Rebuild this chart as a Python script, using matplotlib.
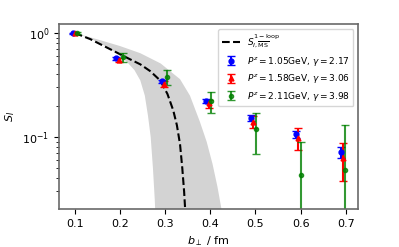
import numpy as np
import matplotlib
matplotlib.use('Agg')
import matplotlib.pyplot as plt

# 格点数据 (b_perp / fm, S_I)
blue_x = [0.096, 0.192, 0.292, 0.391, 0.490, 0.590, 0.689]
blue_y = [1.00, 0.571, 0.343, 0.222, 0.153, 0.106, 0.071]
blue_err = [0.012, 0.015, 0.012, 0.010, 0.010, 0.009, 0.0085]

red_x = [0.100, 0.198, 0.298, 0.397, 0.495, 0.595, 0.694]
red_y = [1.00, 0.550, 0.323, 0.210, 0.140, 0.0986, 0.0625]
red_err = [0.012, 0.020, 0.022, 0.019, 0.019, 0.023, 0.025]

green_x = [0.105, 0.206, 0.304, 0.402, 0.502, 0.600, 0.699]
green_y = [1.00, 0.584, 0.380, 0.222, 0.119, 0.0432, 0.0476]
green_err = [0.020, 0.058, 0.065, 0.050, 0.050, 0.046, 0.082]

labels = [r'$P^z=1.05$GeV, $\gamma=2.17$',
          r'$P^z=1.58$GeV, $\gamma=3.06$',
          r'$P^z=2.11$GeV, $\gamma=3.98$']

# 单圈微扰结果 (中心值 + 误差带边界)
pt_b = [0.100, 0.134, 0.178, 0.222, 0.245, 0.267, 0.289, 0.305, 0.318,
        0.326, 0.333, 0.338, 0.342, 0.345, 0.347]
pt_S = [1.00, 0.875, 0.70, 0.56, 0.50, 0.43, 0.35, 0.26, 0.18,
        0.13, 0.085, 0.05, 0.03, 0.018, 0.010]

band_lo_b = [0.100, 0.130, 0.160, 0.190, 0.215, 0.232, 0.245, 0.255, 0.262,
             0.268, 0.273, 0.277, 0.280]
band_lo_S = [1.00, 0.90, 0.78, 0.65, 0.53, 0.44, 0.35, 0.25, 0.16,
             0.10, 0.05, 0.025, 0.012]
band_hi_b = [0.100, 0.150, 0.200, 0.245, 0.290, 0.333, 0.355, 0.377, 0.392,
             0.405, 0.416, 0.425, 0.430]
band_hi_S = [1.00, 0.87, 0.75, 0.64, 0.51, 0.36, 0.25, 0.14, 0.09,
             0.055, 0.033, 0.02, 0.012]

fig, ax = plt.subplots(figsize=(3.99, 2.47), dpi=100)
fig.subplots_adjust(left=0.148, right=0.897, bottom=0.154, top=0.901)

# 误差带
ax.fill(band_lo_b + band_hi_b[::-1], band_lo_S + band_hi_S[::-1],
        color='lightgray', lw=0)
ax.plot(pt_b, pt_S, 'k--', lw=1.5,
        label=r'$S_{I,\overline{\rm MS}}^{1-\rm loop}$')

ax.errorbar(blue_x, blue_y, yerr=blue_err, fmt='o', color='blue', ms=3.5,
            capsize=3, elinewidth=1.5, label=labels[0])
ax.errorbar(red_x, red_y, yerr=red_err, fmt='^', color='red', ms=3.5,
            capsize=3, elinewidth=1.5, label=labels[1])
ax.errorbar(green_x, green_y, yerr=green_err, fmt='o', color='green', ms=3,
            capsize=3, elinewidth=1.5, alpha=0.8, label=labels[2])

ax.set_yscale('log')
ax.set_ylim(0.0203, 1.21)
ax.set_xlim(0.065, 0.727)
ax.set_xlabel(r'$b_\perp$ / fm', fontsize=8)
ax.set_ylabel(r'$S_I$', fontsize=8)
ax.tick_params(labelsize=8)
for s in ax.spines.values():
    s.set_color('dimgray')
    s.set_linewidth(1.2)
ax.legend(loc='upper right', fontsize=6.5)

plt.savefig('out.png')
